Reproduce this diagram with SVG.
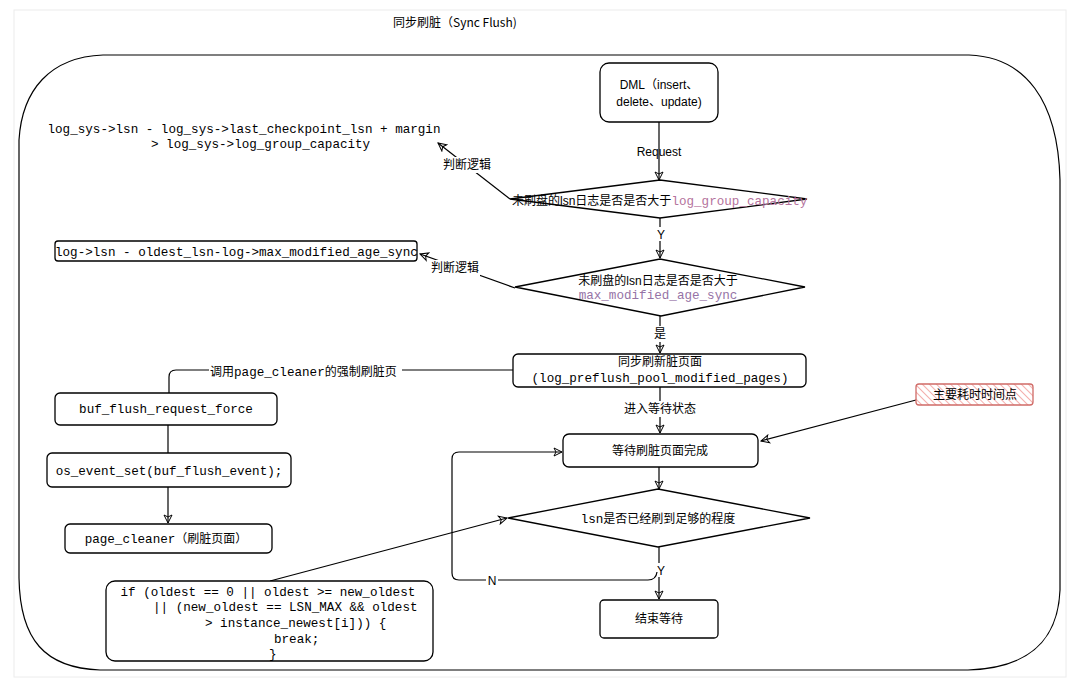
<svg xmlns="http://www.w3.org/2000/svg" width="1080" height="687" viewBox="0 0 1080 687">
<style>
.n{fill:#fff;stroke:#000;stroke-width:1.3}
.c{fill:none;stroke:#000;stroke-width:1.2}
.t{font-family:"Liberation Sans","Noto Sans CJK SC",sans-serif;font-size:12px;fill:#000}
.m{font-family:"Liberation Mono","Noto Sans CJK SC",monospace;font-size:12.6px}
.k{font-family:"Noto Sans CJK SC",sans-serif}
.bg{fill:#fff}
.pk{fill:#b5739d}
.pu{fill:#9673a6}
</style>
<defs>
<marker id="a" viewBox="0 0 10 10" refX="9" refY="5" markerWidth="10" markerHeight="10" markerUnits="userSpaceOnUse" orient="auto"><path d="M1,1 L9,5 L1,9 L3,5 Z" fill="none" stroke="#000" stroke-width="1"/></marker>
<pattern id="h" width="5" height="5" patternUnits="userSpaceOnUse" patternTransform="rotate(-45)"><line x1="0" y1="0" x2="0" y2="5" stroke="#f19c99" stroke-width="1.6"/></pattern>
</defs>
<rect width="1080" height="687" fill="#fff"/>
<rect x="14" y="10" width="1052" height="667" fill="none" stroke="#ececec" stroke-width="1"/>
<text class="t k" x="393" y="27">同步刷脏（Sync Flush)</text>
<g id="frame">
<path class="c" d="M103,55 L969,55 C1025,57 1058,100 1060,180 L1060,590 C1058,640 1030,668 968,670 L100,670 C45,668 20,640 19,578 L19,140 C22,90 50,57 103,55 Z" stroke-width="1.4"/>
</g>
<g id="connectors">
<path class="c" d="M659,122 L659,180" marker-end="url(#a)"/>
<text class="t" x="659" y="156" text-anchor="middle">Request</text>
<path class="c" d="M660,218 L660,258" marker-end="url(#a)"/>
<rect class="bg" x="654" y="227" width="14" height="14"/>
<text class="t" x="661" y="239" text-anchor="middle">Y</text>
<path class="c" d="M510,199 L438,143" marker-end="url(#a)"/>
<rect class="bg" x="442" y="157" width="50" height="16"/>
<text class="t k" x="467" y="169" text-anchor="middle">判断逻辑</text>
<path class="c" d="M515,288 L420,254" marker-end="url(#a)"/>
<rect class="bg" x="430" y="260" width="50" height="16"/>
<text class="t k" x="455" y="272" text-anchor="middle">判断逻辑</text>
<path class="c" d="M660,316 L660,353" marker-end="url(#a)"/>
<rect class="bg" x="652" y="326" width="16" height="16"/>
<text class="t k" x="660" y="338" text-anchor="middle">是</text>
<path class="c" d="M513,370 L176,370 Q169,370 169,377 L169,393"/>
<rect class="bg" x="209" y="364" width="193" height="16"/>
<text class="t k" x="210" y="376">调用<tspan class="m">page_cleaner</tspan>的强制刷脏页</text>
<path class="c" d="M168,425 L168,453"/>
<path class="c" d="M168,487 L168,523" marker-end="url(#a)"/>
<path class="c" d="M660,387 L660,433" marker-end="url(#a)"/>
<rect class="bg" x="623" y="401" width="74" height="16"/>
<text class="t k" x="660" y="413" text-anchor="middle">进入等待状态</text>
<path class="c" d="M916,400 L761,441" marker-end="url(#a)"/>
<path class="c" d="M659,467 L659,489" marker-end="url(#a)"/>
<path class="c" d="M659,547 L659,599" marker-end="url(#a)"/>
<rect class="bg" x="654" y="563" width="14" height="14"/>
<text class="t" x="661" y="575" text-anchor="middle">Y</text>
<path class="c" d="M657,572 Q656,580 648,580 L459,580 Q452,580 452,573 L452,459 Q452,452 459,452 L562,452" marker-end="url(#a)"/>
<rect class="bg" x="486" y="575" width="12" height="12"/>
<text class="t" x="492" y="585" text-anchor="middle">N</text>
<path class="c" d="M270,581 L507,518" marker-end="url(#a)"/>
</g>
<g id="log_sys_text">
<text class="t m" x="47.5" y="133">log_sys-&gt;lsn - log_sys-&gt;last_checkpoint_lsn + margin</text>
<text class="t m" x="151" y="148">&gt; log_sys-&gt;log_group_capacity</text>
</g>
<g id="dml">
<rect class="n" x="600" y="63" width="118" height="59" rx="9"/>
<text class="t" x="659" y="89" text-anchor="middle">DML（insert、</text>
<text class="t" x="659" y="106" text-anchor="middle">delete、update)</text>
</g>
<g id="d1">
<path class="n" d="M510,199 L660,180 L807,199 L660,218 Z"/>
<text class="t" x="512" y="205"><tspan class="k">未刷盘的</tspan>lsn<tspan class="k">日志是否是否大于</tspan><tspan class="m pk">log_group_capacity</tspan></text>
</g>
<g id="log_lsn">
<rect class="n" x="55" y="241" width="362" height="20" rx="3"/>
<text class="t m" x="55" y="256">log-&gt;lsn - oldest_lsn-log-&gt;max_modified_age_sync</text>
</g>
<g id="d2">
<path class="n" d="M515,287 L660,259 L805,287 L661,316 Z"/>
<text class="t" x="658" y="285" text-anchor="middle" font-size="13"><tspan class="k">未刷盘的</tspan>lsn<tspan class="k">日志是否是否大于</tspan></text>
<text class="t m pu" x="658" y="299" text-anchor="middle">max_modified_age_sync</text>
</g>
<g id="sync_box">
<rect class="n" x="513" y="354" width="293" height="33" rx="5"/>
<text class="t k" x="660" y="366" text-anchor="middle">同步刷新脏页面</text>
<text class="t m" x="660" y="382" text-anchor="middle" font-size="12.3">(log_preflush_pool_modified_pages)</text>
</g>
<g id="buf_flush">
<rect class="n" x="55" y="393" width="222" height="32" rx="5"/>
<text class="t m" x="166" y="413" text-anchor="middle">buf_flush_request_force</text>
</g>
<g id="os_event">
<rect class="n" x="47" y="453" width="244" height="34" rx="5"/>
<text class="t m" x="169" y="475" text-anchor="middle">os_event_set(buf_flush_event);</text>
</g>
<g id="page_cleaner">
<rect class="n" x="65" y="524" width="207" height="29" rx="5"/>
<text class="t" x="166" y="543" text-anchor="middle"><tspan class="m">page_cleaner</tspan><tspan class="k">（刷脏页面）</tspan></text>
</g>
<g id="hot">
<rect x="916" y="384" width="117" height="21" rx="3" fill="#fff"/>
<rect x="916" y="384" width="117" height="21" rx="3" fill="url(#h)" stroke="#d06b67" stroke-width="1.3"/>
<text class="t k" x="975" y="399" text-anchor="middle">主要耗时时间点</text>
</g>
<g id="wait">
<rect class="n" x="563" y="434" width="195" height="33" rx="6"/>
<text class="t k" x="660" y="455" text-anchor="middle">等待刷脏页面完成</text>
</g>
<g id="d3">
<path class="n" d="M508,518 L658,489 L810,518 L658,547 Z"/>
<text class="t" x="658" y="523" text-anchor="middle"><tspan class="m">lsn</tspan><tspan class="k">是否已经刷到足够的程度</tspan></text>
</g>
<g id="end">
<rect class="n" x="600" y="600" width="118" height="38" rx="4"/>
<text class="t k" x="659" y="623" text-anchor="middle">结束等待</text>
</g>
<g id="if_box">
<rect class="n" x="106" y="581" width="327" height="80" rx="9"/>
<text class="t m" x="120.5" y="596">if (oldest == 0 || oldest &gt;= new_oldest</text>
<text class="t m" x="153" y="611">|| (new_oldest == LSN_MAX &amp;&amp; oldest</text>
<text class="t m" x="205" y="627">&gt; instance_newest[i])) {</text>
<text class="t m" x="274" y="643">break;</text>
<text class="t m" x="269" y="658">}</text>
</g>
</svg>
